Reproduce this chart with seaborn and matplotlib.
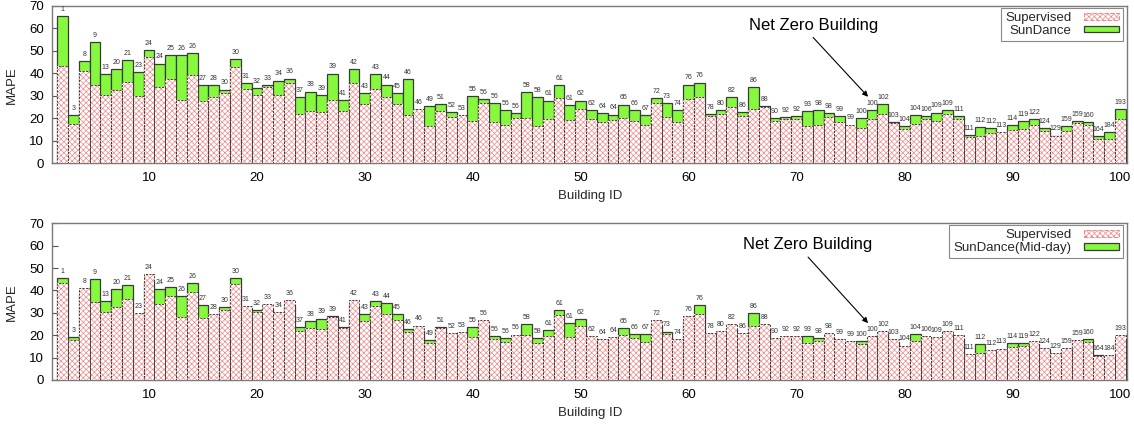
import matplotlib
matplotlib.use("Agg")
import matplotlib.pyplot as plt
from matplotlib.patches import Patch
import pandas as pd
import seaborn as sns

# Building positions on the x axis and the IDs printed above each bar
building_ids = list(range(2, 101))
bar_labels = [1, 3, 8, 9, 13, 20, 21, 23, 24, 24, 25, 26, 26, 27, 28, 30, 30, 31, 32, 33,
              34, 36, 37, 38, 39, 39, 41, 42, 43, 43, 44, 45, 46, 46, 49, 51, 52, 53, 55, 56,
              56, 56, 56, 58, 58, 61, 61, 61, 62, 62, 64, 64, 65, 66, 67, 72, 73, 74, 76, 76,
              78, 80, 82, 86, 86, 88, 90, 92, 92, 93, 98, 98, 99, 99, 100, 100, 102, 103, 104, 104,
              106, 109, 109, 111, 111, 112, 112, 113, 114, 119, 122, 124, 129, 159, 159, 160, 164, 184, 193]

# MAPE of the supervised model
supervised = [43.2, 17.7, 41.0, 34.7, 30.4, 32.5, 36.2, 29.8, 47.2, 33.8,
              37.5, 28.3, 39.5, 27.9, 29.5, 31.1, 42.9, 33.2, 30.5, 34.0,
              30.2, 35.8, 21.9, 23.1, 23.0, 28.0, 23.1, 35.7, 26.2, 33.0,
              29.7, 26.6, 21.3, 24.3, 16.7, 23.1, 20.8, 21.4, 19.0, 26.7,
              18.2, 17.1, 20.3, 20.1, 16.7, 19.7, 28.9, 19.4, 24.1, 19.5,
              18.4, 19.2, 20.1, 18.8, 17.1, 26.7, 20.6, 18.4, 28.6, 29.6,
              21.0, 21.8, 25.0, 21.1, 24.0, 24.9, 18.9, 19.7, 19.6, 16.7,
              17.2, 20.8, 18.2, 17.2, 15.9, 19.6, 22.0, 18.1, 15.4, 17.6,
              19.8, 19.0, 21.9, 19.9, 11.7, 12.0, 13.5, 14.0, 14.6, 15.3,
              17.2, 14.4, 12.0, 14.4, 17.9, 17.0, 10.9, 11.0, 19.9]

# MAPE of SunDance (full day)
sundance = [65.5, 21.4, 45.3, 54.1, 39.6, 42.0, 46.0, 40.7, 50.2, 44.4,
            48.3, 48.1, 49.1, 34.7, 34.7, 32.8, 46.5, 35.6, 33.5, 34.9,
            36.8, 37.7, 29.5, 31.9, 30.4, 39.9, 28.3, 42.1, 31.3, 39.8,
            35.0, 31.3, 37.5, 23.0, 25.6, 26.2, 22.8, 20.5, 29.9, 28.7,
            26.8, 23.8, 22.3, 31.7, 29.5, 27.9, 34.9, 25.9, 27.9, 23.8,
            22.3, 21.7, 26.1, 23.7, 21.4, 29.2, 26.8, 23.7, 35.0, 35.9,
            22.0, 23.7, 29.6, 22.9, 34.0, 25.3, 20.3, 20.7, 21.0, 23.2,
            23.8, 22.3, 21.1, 16.5, 20.1, 23.5, 26.5, 18.3, 16.7, 21.4,
            21.1, 22.6, 23.7, 21.0, 12.5, 16.2, 15.8, 13.0, 17.0, 18.8,
            19.5, 15.6, 12.3, 16.4, 18.6, 18.2, 12.2, 13.9, 24.0]

# MAPE of SunDance restricted to mid-day hours
sundance_midday = [45.4, 19.2, 38.5, 45.0, 35.3, 40.7, 42.3, 28.5, 44.0, 40.7,
                   41.4, 37.4, 43.3, 33.5, 27.5, 32.5, 45.4, 31.5, 31.1, 32.0,
                   28.0, 33.5, 23.8, 26.5, 27.4, 28.4, 23.8, 33.0, 29.5, 35.3,
                   34.3, 29.5, 22.6, 22.0, 18.0, 23.5, 19.0, 19.5, 23.5, 24.5,
                   19.7, 18.6, 18.5, 24.9, 18.6, 22.2, 31.3, 25.3, 27.3, 18.0,
                   17.0, 18.0, 23.1, 20.6, 20.4, 24.5, 21.6, 17.0, 26.5, 33.5,
                   19.5, 20.0, 23.0, 19.5, 29.8, 23.0, 17.5, 18.0, 18.0, 19.5,
                   18.6, 19.0, 17.0, 16.0, 17.4, 18.0, 20.5, 16.5, 14.0, 20.6,
                   18.5, 17.5, 20.5, 18.5, 10.5, 16.1, 12.5, 13.0, 16.4, 16.4,
                   16.0, 13.5, 11.0, 13.5, 17.0, 18.3, 11.2, 10.0, 18.5]

sns.set_theme(style="white")
plt.rcParams['font.family'] = ['Liberation Sans', 'DejaVu Sans']
plt.rcParams['hatch.linewidth'] = 0.5

GREEN = '#86f93e'
EDGE = '#3a3a3a'
PINK = '#f08a8a'
SPINE = '#7a7a7a'
HATCH = 'xxxxxx'

fig = plt.figure(figsize=(11.34, 4.25), dpi=100)
ax_top = fig.add_axes([0.0461, 0.6158, 0.9480, 0.3701])
ax_bot = fig.add_axes([0.0461, 0.1059, 0.9480, 0.3687])


def draw_panel(ax, sun, sun_name, note_text, note_arrow):
    df = pd.DataFrame({"id": building_ids, "sup": supervised, "sun": sun})
    common = dict(data=df, x="id", native_scale=True, width=1, errorbar=None,
                  saturation=1, ax=ax)
    # SunDance bars underneath, supervised bars (opaque hatch) on top
    sns.barplot(y="sun", color=GREEN, edgecolor=EDGE, linewidth=0.9, zorder=2, **common)
    sns.barplot(y="sup", color='white', edgecolor=PINK, linewidth=0, hatch=HATCH,
                zorder=3, **common)
    sns.barplot(y="sup", fill=False, color=EDGE, linewidth=0.7,
                linestyle=(0, (2.0, 1.5)), zorder=4, **common)

    # ID labels above the taller of the two bars
    for x, lab, a, b in zip(building_ids, bar_labels, supervised, sun):
        ax.annotate(str(lab), xy=(x, max(a, b)), xytext=(0, 4.8),
                    textcoords='offset points', ha='center', va='center',
                    fontsize=5.0, color='#333333', zorder=6)

    ax.set_xlim(1.04, 100.65)
    ax.set_ylim(0, 70)
    ax.set_xticks(range(10, 101, 10))
    ax.set_yticks(range(0, 71, 10))
    ax.tick_params(axis='both', direction='in', length=4, width=0.8, color='#555555',
                   labelsize=9.5, labelcolor='black', bottom=True, left=True)
    ax.tick_params(axis='x', pad=6.5)
    ax.tick_params(axis='y', pad=6)
    for sp in ax.spines.values():
        sp.set_color(SPINE)
        sp.set_linewidth(1.0)
        sp.set_visible(True)

    ax.set_xlabel('Building ID', fontsize=9.5)
    ax.set_ylabel('MAPE', fontsize=9.5)
    ax.xaxis.set_label_coords(0.5, -0.172)
    ax.yaxis.set_label_coords(-0.032, 0.5)

    (tx, ty), (sx, sy), (ex, ey) = note_text, note_arrow[0], note_arrow[1]
    ax.text(tx, ty, 'Net Zero Building', ha='center', va='baseline', fontsize=12,
            color='black', zorder=7)
    ax.annotate('', xy=(ex, ey), xytext=(sx, sy),
                arrowprops=dict(arrowstyle='-|>', color='black', lw=0.8,
                                mutation_scale=8, shrinkA=0, shrinkB=0), zorder=7)

    handles = [Patch(facecolor='white', edgecolor=PINK, hatch=HATCH, linewidth=0.8,
                     linestyle='--'),
               Patch(facecolor=GREEN, edgecolor=EDGE, linewidth=0.9)]
    leg = ax.legend(handles, ['Supervised', sun_name], loc='upper right',
                    bbox_to_anchor=(0.9963, 0.987), borderaxespad=0, markerfirst=False,
                    frameon=True, fancybox=False, framealpha=1, edgecolor='#888888',
                    fontsize=9.5, handlelength=2.65, handleheight=0.4, handletextpad=1.0,
                    labelspacing=0.05, borderpad=0.3)
    leg.get_frame().set_linewidth(0.8)
    leg.set_zorder(8)


draw_panel(ax_top, sundance, 'SunDance',
           (71.54, 59.3), ((71.54, 56.0), (76.63, 29.6)))
draw_panel(ax_bot, sundance_midday, 'SunDance(Mid-day)',
           (71.07, 58.5), ((71.07, 54.9), (76.63, 25.4)))

fig.savefig('out.png', dpi=100)
